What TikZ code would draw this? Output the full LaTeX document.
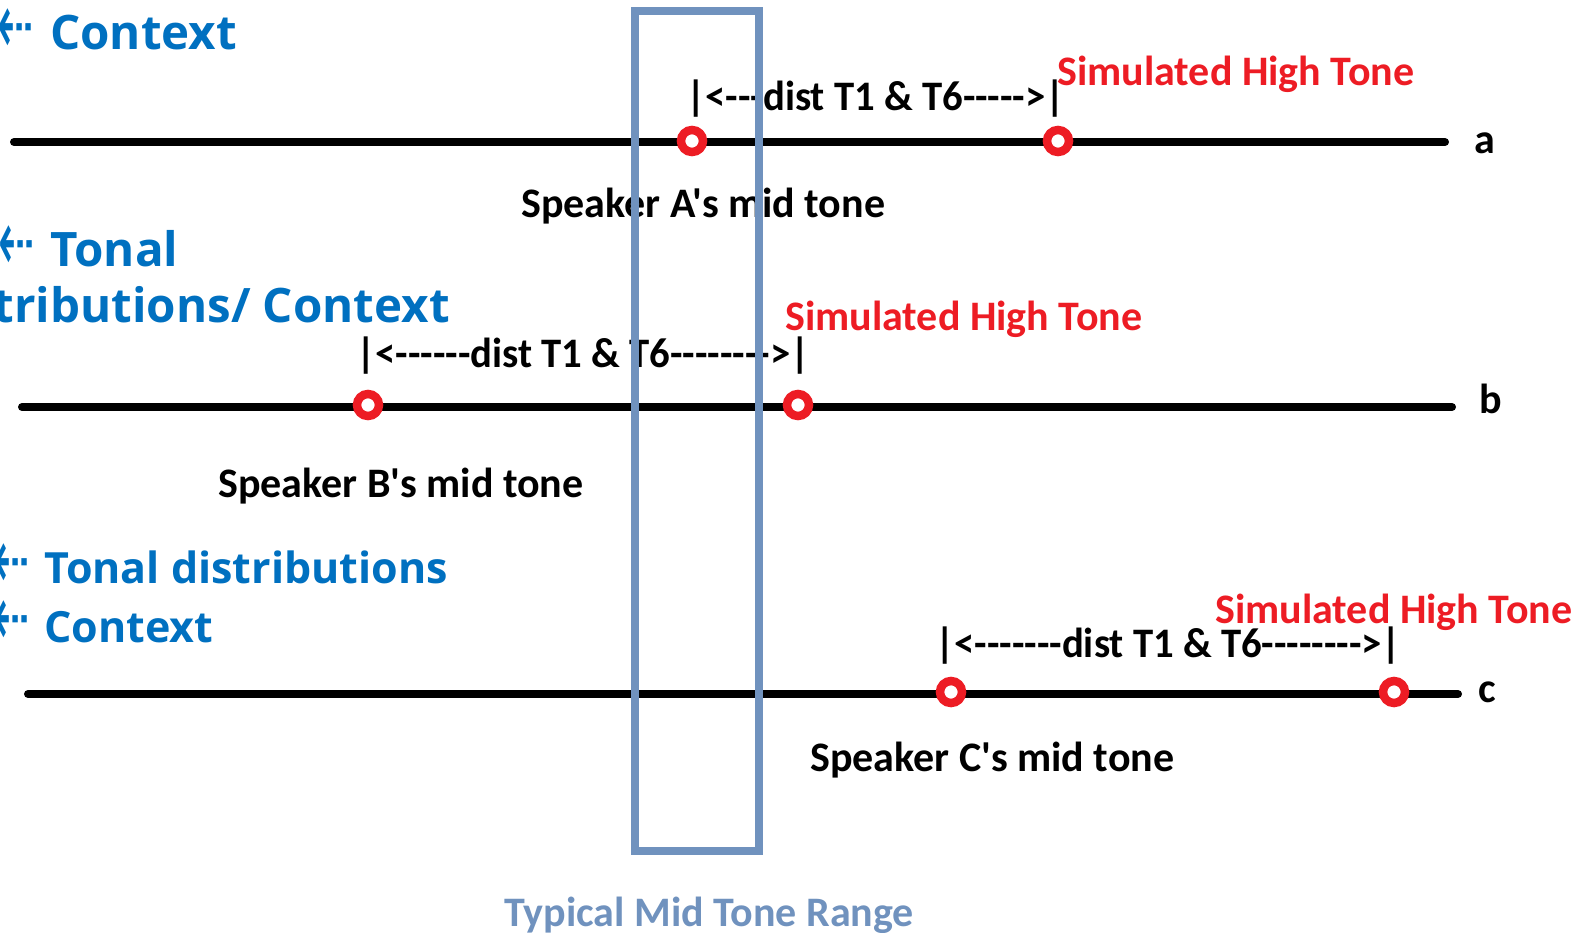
\documentclass[tikz,border=0pt]{standalone}
\usepackage{fontspec}
\setmainfont{Carlito}[Ligatures=TeXOff]
\newfontfamily\bluefont{Open Sans}[Ligatures=TeXOff]
\newfontfamily\arrowfont{DejaVu Sans}
\definecolor{tonered}{RGB}{237,28,36}
\definecolor{rangeblue}{RGB}{112,146,190}
\definecolor{ctxblue}{RGB}{0,112,192}
\newcommand{\distlbl}[1]{\scalebox{0.97}[1]{#1}}
\newcommand{\ctxarr}{\scalebox{0.72}[1.45]{⇠}}
\begin{document}
\begin{tikzpicture}[x=1pt,y=-1pt,
  tline/.style={line width=8pt, line cap=round, black},
  tone/.style={circle, draw=tonered, line width=8.5pt, fill=white, minimum size=22pt, inner sep=0pt},
  lbl/.style={anchor=base west, inner sep=0pt, font=\bfseries\fontsize{42}{44}\selectfont},
  redlbl/.style={lbl, text=tonered},
  ctxbig/.style={anchor=base west, inner sep=0pt, text=ctxblue, font=\bluefont\bfseries\fontsize{47.5}{50}\selectfont},
  ctxsmall/.style={anchor=base west, inner sep=0pt, text=ctxblue, font=\bluefont\bfseries\fontsize{43}{45}\selectfont},
  ctxarrow/.style={anchor=east, inner sep=0pt, text=ctxblue, font=\arrowfont\fontsize{60}{60}\selectfont},
  rangebox/.style={draw=rangeblue, line width=8pt, inner sep=0pt}]
\useasboundingbox (0,0) rectangle (1581,932);
\clip (0,0) rectangle (1581,932);

% lines
\coordinate (aL) at (14,142); \coordinate (aR) at (1445,142);
\coordinate (bL) at (22,407); \coordinate (bR) at (1452,407);
\coordinate (cL) at (28,694); \coordinate (cR) at (1458,694);
\draw[tline] (aL) -- (aR);
\draw[tline] (bL) -- (bR);
\draw[tline] (cL) -- (cR);

% tones
\node[tone] (amid) at (692,141) {};
\node[tone] (ahigh) at (1058,141) {};
\node[tone] (bmid) at (368,405) {};
\node[tone] (bhigh) at (798,405) {};
\node[tone] (cmid) at (951,692) {};
\node[tone] (chigh) at (1394,692) {};

% labels a
\node[redlbl] (asim) at (1057,85) {Simulated High Tone};
\node[lbl] (adist) at (686,110) {\distlbl{|<---dist T1 \& T6----->|}};
\node[lbl] (aspk) at (521,217) {Speaker A's mid tone};
\node[lbl] (alab) at (1474,153) {a};

% labels b
\node[redlbl] (bsim) at (785,330) {Simulated High Tone};
\node[lbl] (bdist) at (356,367) {\distlbl{|<------dist T1 \& T6-------->|}};
\node[lbl] (bspk) at (218,497) {Speaker B's mid tone};
\node[lbl] (blab) at (1479,413) {b};

% labels c
\node[redlbl] (csim) at (1215,623) {Simulated High Tone};
\node[lbl] (cdist) at (935,657) {\distlbl{|<-------dist T1 \& T6-------->|}};
\node[lbl] (cspk) at (810,771) {Speaker C's mid tone};
\node[lbl] (clab) at (1478,702) {c};

% left context notes
\node[ctxarrow] (ar1) at (34,32) {\ctxarr};
\node[ctxbig] (ctx1) at (50,49) {Context};
\node[ctxarrow] (ar2) at (35,249) {\ctxarr};
\node[ctxbig] (ctx2) at (50,266) {Tonal};
\node[ctxbig, anchor=base east] (ctx2b) at (450,322) {distributions/ Context};
\node[ctxarrow] (ar3) at (30,567) {\ctxarr};
\node[ctxsmall] (ctx3) at (44,583) {Tonal distributions};
\node[ctxarrow] (ar4) at (30,624) {\ctxarr};
\node[ctxsmall] (ctx4) at (44,642) {Context};

% typical range
\draw[rangebox] (635,11) rectangle (759,851);
\node[lbl, text=rangeblue] (range) at (504,926) {Typical Mid Tone Range};
\end{tikzpicture}
\end{document}
